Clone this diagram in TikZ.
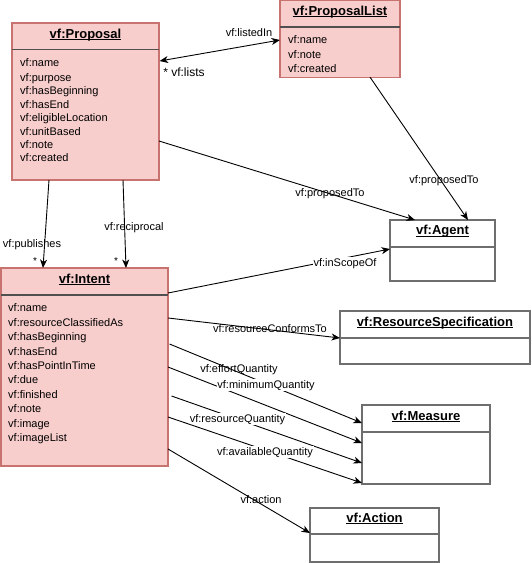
\documentclass[tikz,border=0pt]{standalone}
\usepackage{fontspec}
\setmainfont{Liberation Sans}
\usetikzlibrary{arrows.meta}
\definecolor{pinkfill}{HTML}{F8CECC}
\definecolor{pinkdraw}{HTML}{C97370}
\definecolor{boxgray}{HTML}{6E6E6E}
\definecolor{sepdark}{HTML}{505050}
\newcommand\myul[1]{\setbox0\hbox{#1}\rlap{\rule[-2pt]{\wd0}{0.9pt}}\box0}
\begin{document}
\begin{tikzpicture}[x=1pt,y=-1pt,
  pinkbox/.style={draw=pinkdraw, fill=pinkfill, line width=1.2pt, anchor=north west, inner sep=0pt, outer sep=0pt},
  whitebox/.style={draw=boxgray, fill=white, line width=1.3pt, anchor=north west, inner sep=0pt, outer sep=0pt},
  pinksep/.style={draw=sepdark, line width=1.4pt},
  whitesep/.style={draw=boxgray, line width=1.3pt},
  titletxt/.style={font=\fontsize{13}{15}\selectfont\bfseries, inner sep=0pt, anchor=base},
  attr/.style={font=\fontsize{11}{13}\selectfont, anchor=base west, inner sep=0pt},
  lbl/.style={font=\fontsize{11}{13}\selectfont, inner sep=0.6pt, anchor=base},
  lblw/.style={lbl, fill=white},
  conn/.style={draw=black, line width=0.9pt, -{Stealth[length=8.5pt,width=7pt,inset=2.5pt]}},
  conn2/.style={draw=black, line width=0.9pt, {Stealth[length=8.5pt,width=7pt,inset=2.5pt]}-{Stealth[length=8.5pt,width=7pt,inset=2.5pt]}},
]
\useasboundingbox (0,0) rectangle (531,563);
\fill[white] (0,0) rectangle (531,563);

% ---------- boxes ----------
% Proposal
\node[pinkbox, minimum width=147pt, minimum height=157pt] (prop) at (12,23) {};
\draw[pinksep] ([yshift=-26.5pt]prop.north west) -- ([yshift=-26.5pt]prop.north east);
\node[titletxt] (propT) at ([yshift=-15pt]prop.north) {\myul{vf:Proposal}};
\node[attr] (pa1) at (20,66) {vf:name};
\node[attr] (pa2) at (20,81) {vf:purpose};
\node[attr] (pa3) at (20,94.7) {vf:hasBeginning};
\node[attr] (pa4) at (20,108.3) {vf:hasEnd};
\node[attr] (pa5) at (20,121.3) {vf:eligibleLocation};
\node[attr] (pa6) at (20,135) {vf:unitBased};
\node[attr] (pa7) at (20,148) {vf:note};
\node[attr] (pa8) at (20,161.7) {vf:created};

% ProposalList
\node[pinkbox, minimum width=120pt, minimum height=76.5pt] (plist) at (280,0.6) {};
\draw[pinksep] ([yshift=-26.5pt]plist.north west) -- ([yshift=-26.5pt]plist.north east);
\node[titletxt] (plistT) at ([yshift=-14.6pt]plist.north) {\myul{vf:ProposalList}};
\node[attr] (la1) at (288,43.3) {vf:name};
\node[attr] (la2) at (288,58) {vf:note};
\node[attr] (la3) at (288,72) {vf:created};

% Agent
\node[whitebox, minimum width=105pt, minimum height=61pt] (agent) at (390,220) {};
\draw[whitesep] ([yshift=-27pt]agent.north west) -- ([yshift=-27pt]agent.north east);
\node[titletxt] (agentT) at ([yshift=-14.5pt]agent.north) {\myul{vf:Agent}};

% Intent
\node[pinkbox, minimum width=167pt, minimum height=198pt] (intent) at (1,268) {};
\draw[pinksep] ([yshift=-27pt]intent.north west) -- ([yshift=-27pt]intent.north east);
\node[titletxt] (intentT) at ([yshift=-15pt]intent.north) {\myul{vf:Intent}};
\node[attr] (ia1) at (8,311.3) {vf:name};
\node[attr] (ia2) at (8,326.3) {vf:resourceClassifiedAs};
\node[attr] (ia3) at (8,340.3) {vf:hasBeginning};
\node[attr] (ia4) at (8,355) {vf:hasEnd};
\node[attr] (ia5) at (8,369) {vf:hasPointInTime};
\node[attr] (ia6) at (8,383.3) {vf:due};
\node[attr] (ia7) at (8,398) {vf:finished};
\node[attr] (ia8) at (8,412.3) {vf:note};
\node[attr] (ia9) at (8,427.3) {vf:image};
\node[attr] (ia10) at (8,441.3) {vf:imageList};

% ResourceSpecification
\node[whitebox, minimum width=190pt, minimum height=53pt] (rspec) at (340,311) {};
\draw[whitesep] ([yshift=-27pt]rspec.north west) -- ([yshift=-27pt]rspec.north east);
\node[titletxt] (rspecT) at ([yshift=-15pt]rspec.north) {\myul{vf:ResourceSpecification}};

% Measure
\node[whitebox, minimum width=128pt, minimum height=79pt] (measure) at (362,405) {};
\draw[whitesep] ([yshift=-27pt]measure.north west) -- ([yshift=-27pt]measure.north east);
\node[titletxt] (measureT) at ([yshift=-15pt]measure.north) {\myul{vf:Measure}};

% Action
\node[whitebox, minimum width=129pt, minimum height=54pt] (action) at (310,508) {};
\draw[whitesep] ([yshift=-26pt]action.north west) -- ([yshift=-26pt]action.north east);
\node[titletxt] (actionT) at ([yshift=-14pt]action.north) {\myul{vf:Action}};

% ---------- connectors ----------
% Proposal <-> ProposalList
\draw[conn2] ([yshift=-38pt,xshift=0.6pt]prop.north east) -- ([yshift=-39.4pt]plist.north west);
\node[lbl] (lListed) at (249,36) {vf:listedIn};
\node[lbl, font=\fontsize{12}{14}\selectfont] (lLists) at (184,76.5) {* vf:lists};

% Proposal -> Agent
\draw[conn] ([yshift=-118pt]prop.north east) -- ([xshift=25pt]agent.north west);
\node[lbl] (lProp1) at (330,196) {vf:proposedTo};

% ProposalList -> Agent
\draw[conn] ([xshift=90pt]plist.south west) -- ([xshift=78pt]agent.north west);
\node[lbl] (lProp2) at (444,183) {vf:proposedTo};

% Proposal -> Intent (publishes)
\draw[conn] ([xshift=37pt]prop.south west) -- ([xshift=42pt]intent.north west);
\node[lbl] (lPub) at (32,247) {vf:publishes};
\node[lbl, font=\fontsize{10}{12}\selectfont] (sPub) at (35,264) {*};

% Proposal -> Intent (reciprocal)
\draw[conn] ([xshift=111pt]prop.south west) -- ([xshift=125pt]intent.north west);
\node[lbl] (lRec) at (134,230) {vf:reciprocal};
\node[lbl, font=\fontsize{10}{12}\selectfont] (sRec) at (116,264) {*};

% Intent -> Agent
\draw[conn] ([yshift=-25pt]intent.north east) -- ([yshift=-29pt]agent.north west);
\node[lblw] (lScope) at (345,266) {vf:inScopeOf};

% Intent -> ResourceSpecification
\draw[conn] ([yshift=-50pt]intent.north east) -- ([yshift=-27pt]rspec.north west);
\node[lbl] (lConf) at (270,332) {vf:resourceConformsTo};

% Intent -> Measure (effort)
\draw[conn] ([yshift=-99pt]intent.north east) -- ([yshift=-38pt]measure.north west);
\node[lblw] (lEff) at (239,372) {vf:effortQuantity};

% Intent -> Measure (minimum)
\draw[conn] ([yshift=-76pt,xshift=1.5pt]intent.north east) -- ([yshift=-18pt]measure.north west);
\node[lblw] (lMin) at (266,388) {vf:minimumQuantity};

% Intent -> Measure (resource)
\draw[conn] ([yshift=-128pt,xshift=3.5pt]intent.north east) -- ([yshift=-58pt]measure.north west);
\node[lblw] (lRes) at (237.5,422) {vf:resourceQuantity};

% Intent -> Measure (available)
\draw[conn] ([yshift=-149pt]intent.north east) -- ([yshift=-78pt]measure.north west);
\node[lblw] (lAvail) at (265,455) {vf:availableQuantity};

% Intent -> Action
\draw[conn] ([yshift=-181pt]intent.north east) -- ([yshift=-25pt]action.north west);
\node[lbl] (lAct) at (261,503) {vf:action};
\end{tikzpicture}
\end{document}
